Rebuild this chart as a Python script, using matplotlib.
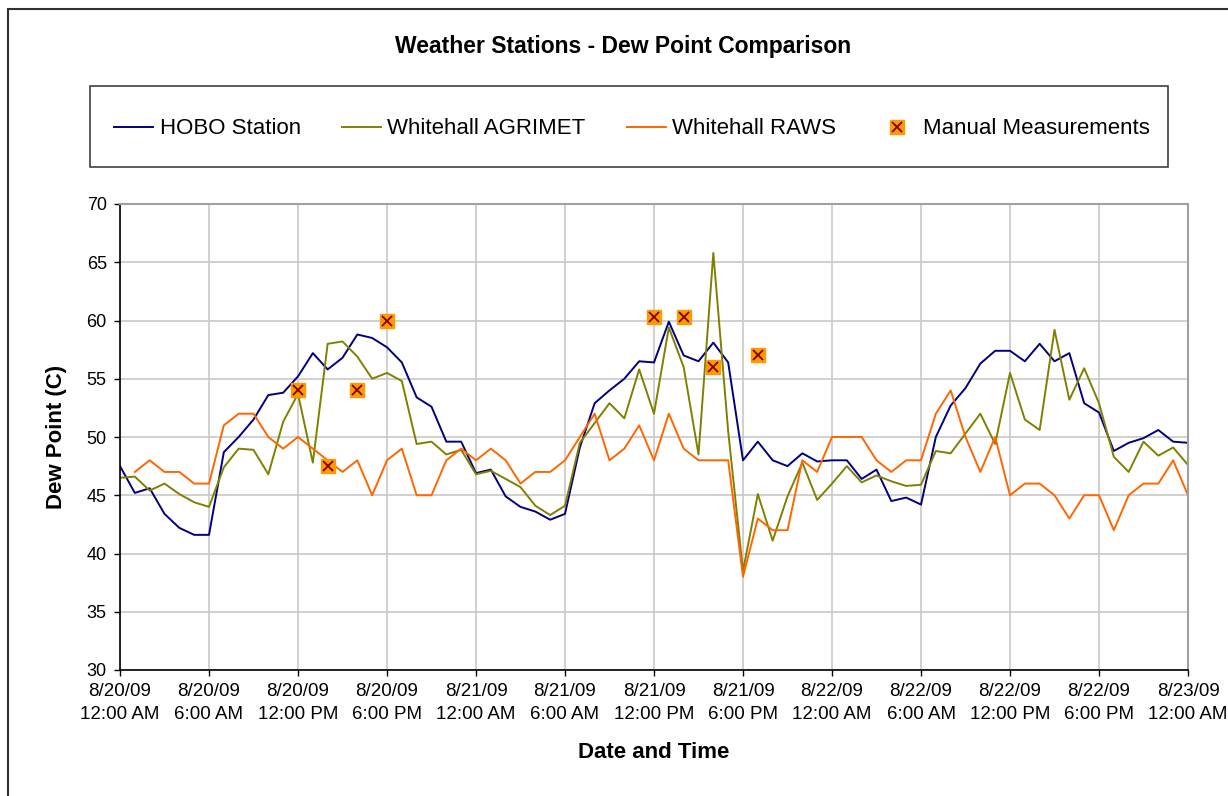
import matplotlib.pyplot as plt
from matplotlib.patches import Rectangle
import numpy as np

plt.rcParams['font.family'] = ['Liberation Sans', 'DejaVu Sans']

# hours since 8/20/09 12:00 AM
hours = list(range(73))

hobo = [47.5, 45.2, 45.6, 43.4, 42.2, 41.6, 41.6, 48.7, 50.0, 51.5,
        53.6, 53.8, 55.2, 57.2, 55.8, 56.8, 58.8, 58.5, 57.7, 56.4,
        53.4, 52.6, 49.6, 49.6, 46.9, 47.2, 44.9, 44.0, 43.6, 42.9,
        43.4, 49.1, 52.9, 54.0, 55.0, 56.5, 56.4, 59.9, 57.0, 56.5,
        58.1, 56.4, 48.0, 49.6, 48.0, 47.5, 48.6, 47.9, 48.0, 48.0,
        46.4, 47.2, 44.5, 44.8, 44.2, 50.0, 52.7, 54.2, 56.3, 57.4,
        57.4, 56.5, 58.0, 56.5, 57.2, 52.9, 52.1, 48.8, 49.5, 49.9,
        50.6, 49.6, 49.5]

agrimet = [46.5, 46.6, 45.4, 46.0, 45.1, 44.4, 44.0, 47.4, 49.0, 48.9,
           46.8, 51.3, 53.7, 47.8, 58.0, 58.2, 56.9, 55.0, 55.5, 54.8,
           49.4, 49.6, 48.5, 48.9, 46.8, 47.1, 46.4, 45.7, 44.1, 43.3,
           44.1, 49.5, 51.2, 52.9, 51.6, 55.8, 52.0, 59.4, 56.0, 48.5,
           65.8, 50.5, 38.5, 45.1, 41.1, 44.9, 47.8, 44.6, 46.0, 47.5,
           46.1, 46.7, 46.2, 45.8, 45.9, 48.8, 48.6, 50.3, 52.0, 49.4,
           55.5, 51.5, 50.6, 59.2, 53.2, 55.9, 52.9, 48.3, 47.0, 49.6,
           48.4, 49.1, 47.6]

# RAWS starts at 1:00 AM
raws_hours = list(range(1, 73))
raws = [47, 48, 47, 47, 46, 46, 51, 52, 52, 50,
        49, 50, 49, 48, 47, 48, 45, 48, 49, 45,
        45, 48, 49, 48, 49, 48, 46, 47, 47, 48,
        50, 52, 48, 49, 51, 48, 52, 49, 48, 48,
        48, 38, 43, 42, 42, 48, 47, 50, 50, 50,
        48, 47, 48, 48, 52, 54, 50, 47, 50, 45,
        46, 46, 45, 43, 45, 45, 42, 45, 46, 46,
        48, 45]

manual_hours = [12, 14, 16, 18, 36, 38, 40, 43]
manual = [54.0, 47.5, 54.0, 60.0, 60.3, 60.3, 56.0, 57.0]

tick_hours = list(range(0, 73, 6))
tick_labels = ['8/20/09\n12:00 AM', '8/20/09\n6:00 AM', '8/20/09\n12:00 PM', '8/20/09\n6:00 PM',
               '8/21/09\n12:00 AM', '8/21/09\n6:00 AM', '8/21/09\n12:00 PM', '8/21/09\n6:00 PM',
               '8/22/09\n12:00 AM', '8/22/09\n6:00 AM', '8/22/09\n12:00 PM', '8/22/09\n6:00 PM',
               '8/23/09\n12:00 AM']

W, H = 1228, 796
fig = plt.figure(figsize=(W / 100, H / 100), dpi=100)
ax = fig.add_axes([120 / W, 1 - 670 / H, (1188 - 120) / W, (670 - 204) / H])

l1, = ax.plot(hours, hobo, color='#000080', lw=1.4, label='HOBO Station')
l2, = ax.plot(hours, agrimet, color='#808000', lw=1.4, label='Whitehall AGRIMET')
l3, = ax.plot(raws_hours, raws, color='#FF6600', lw=1.4, label='Whitehall RAWS')
sq, = ax.plot(manual_hours, manual, 's', color='#FF9900', ms=10, mec='#FF9900', zorder=5)
xm, = ax.plot(manual_hours, manual, 'x', color='#800000', ms=7, mew=1.3, zorder=6)

ax.set_xlim(0, 72)
ax.set_ylim(30, 70)
ax.set_yticks(range(30, 71, 5))
ax.set_xticks(tick_hours)
ax.set_xticklabels(tick_labels, fontsize=13.5, linespacing=1.45)
ax.tick_params(axis='y', labelsize=13)
ax.tick_params(direction='out', length=4.5, width=1, color='black', pad=5)
ax.grid(True, color='#C8C8C8', lw=1.2)
ax.set_axisbelow(True)

for s in ['left', 'bottom']:
    ax.spines[s].set_color('black')
    ax.spines[s].set_linewidth(1.2)
for s in ['top', 'right']:
    ax.spines[s].set_color('#A0A0A0')
    ax.spines[s].set_linewidth(1.5)

ax.set_xlabel('Date and Time', fontsize=16, fontweight='bold', labelpad=14)
ax.set_ylabel('Dew Point (C)', fontsize=16, fontweight='bold', labelpad=14)

fig.text(623 / W, 1 - 46 / H, 'Weather Stations - Dew Point Comparison',
         ha='center', va='center', fontsize=16.5, fontweight='bold')

# legend box
fig.patches.append(Rectangle((90 / W, 1 - 167 / H), (1168 - 90) / W, (167 - 86) / H,
                             transform=fig.transFigure, fill=False, ec='#404040', lw=1.2))
fig.legend([l1, l2, l3, (sq, xm)],
           ['HOBO Station', 'Whitehall AGRIMET', 'Whitehall RAWS', 'Manual Measurements'],
           ncol=4, loc='center', bbox_to_anchor=(632 / W, 1 - 129 / H), frameon=False,
           fontsize=16, handlelength=1.75, handletextpad=0.3, columnspacing=1.85)

# outer chart border
fig.patches.append(Rectangle((8 / W, -0.05), 1.1, 1 - 9 / H + 0.05,
                             transform=fig.transFigure, fill=False, ec='#303030', lw=1.5))

fig.savefig('out.png', dpi=100)
